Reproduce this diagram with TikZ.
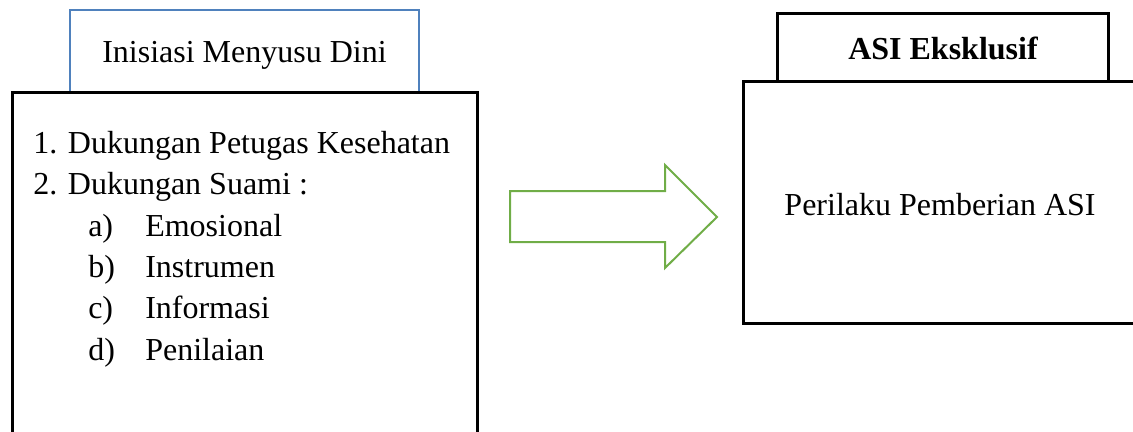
\documentclass[tikz,border=0pt]{standalone}
\usepackage{fontspec}
\setmainfont{Liberation Serif}
\definecolor{frameBlue}{RGB}{79,129,189}
\definecolor{arrowGreen}{RGB}{112,173,71}

\tikzset{
  txt/.style={anchor=base, inner sep=0pt},
  lefttxt/.style={anchor=base west, inner sep=0pt}
}

\begin{document}
\begin{tikzpicture}[x=0.75pt, y=-0.75pt, font=\fontsize{24}{31}\selectfont]
        \useasboundingbox (0,0) rectangle (1133,432);
        % title boxes
        \draw[frameBlue, line width=1.5pt] (70,92) |- (419,10) -- (419,92);
        \draw[black, line width=2.25pt] (777,81) |- (1108,13) -- (1108,81);
        \draw[black, line width=2.25pt, fill=white] (12,450) |- (477,92) -- (477,450);
        \draw[black, line width=2.25pt, fill=white] (743,81) rectangle (1150,323);
        % block arrow
        \draw[arrowGreen, line width=1.5pt] (510,191) -- (665,191) -- (665,165) -- (717,217)
              -- (665,268) -- (665,242) -- (510,242) -- cycle;
        \node[txt] (imd) at (244.5,62) {Inisiasi Menyusu Dini};
        \node[txt, font=\fontsize{24}{31}\selectfont\bfseries] (asi) at (943,60) {ASI Eksklusif};
        \node[txt] (perilaku) at (940,215) {Perilaku Pemberian ASI};
        \node[lefttxt] (petugas) at (33,153) {1. Dukungan Petugas Kesehatan};
        \node[lefttxt] (suami) at (33,194.5) {2. Dukungan Suami :};
        \foreach \l/\t [count=\i] in {a/Emosional, b/Instrumen, c/Informasi, d/Penilaian}{
          \node[lefttxt] (lbl\l) at (88,{236+41.4*(\i-1)}) {\l)};
          \node[lefttxt] (item\l) at (145,{236+41.4*(\i-1)}) {\t};
        }
      \end{tikzpicture}
\end{document}
